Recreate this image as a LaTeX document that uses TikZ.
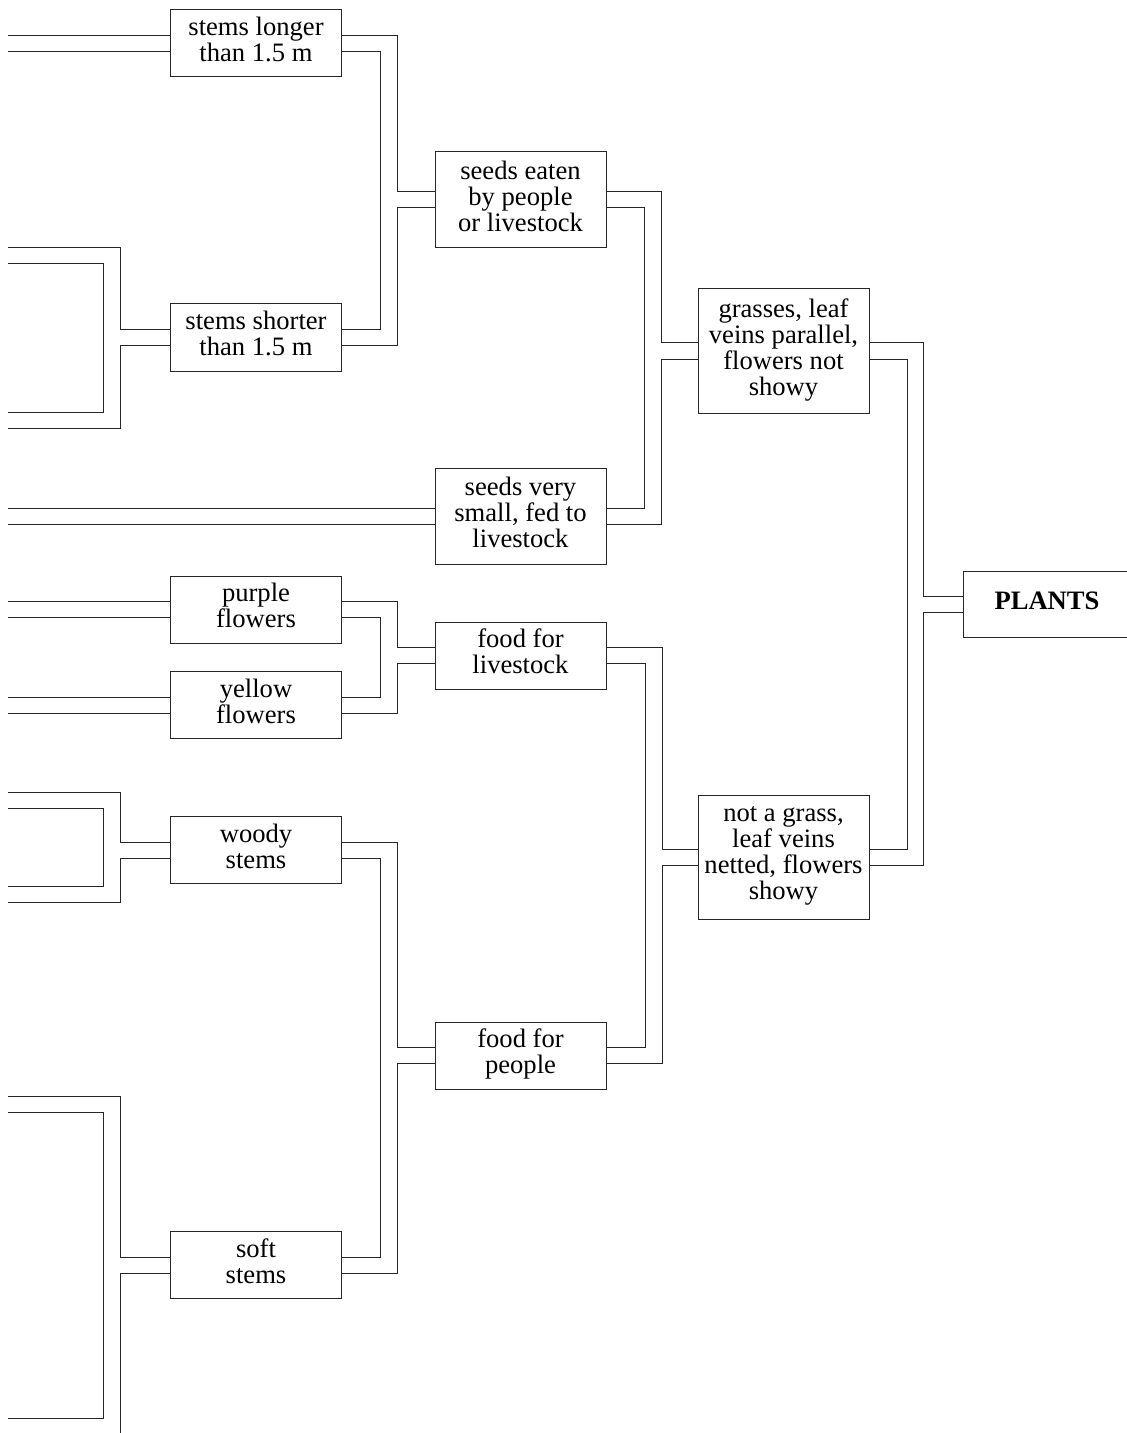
\documentclass[tikz,border=0pt]{standalone}
\usepackage{fontspec}
\setmainfont{Liberation Serif}
\tikzset{
  box/.style={draw, align=center, inner sep=2pt, minimum width=85.5pt,
    font=\fontsize{13.3}{13}\selectfont,
    execute at begin node=\strut, execute at end node=\strut},
  two/.style={box, minimum height=33.5pt},
  three/.style={box, minimum height=48pt},
  four/.style={box, minimum height=62pt}
}
% parent, upper child, lower child, x between children, x to parent
\newcommand{\pipe}[5]{
  \coordinate (pu) at ([yshift=4pt]#1);
  \coordinate (pd) at ([yshift=-4pt]#1);
  \coordinate (au) at ([yshift=4pt]#2);
  \coordinate (ad) at ([yshift=-4pt]#2);
  \coordinate (bu) at ([yshift=4pt]#3);
  \coordinate (bd) at ([yshift=-4pt]#3);
  \coordinate (xi) at (#4,0);
  \coordinate (xo) at (#5,0);
  \draw (au) -- (au -| xo) -- (pu -| xo) -- (pu);
  \draw (ad) -- (ad -| xi) -- (bu -| xi) -- (bu);
  \draw (bd) -- (bd -| xo) -- (pd -| xo) -- (pd);
}
\newcommand{\stub}[1]{
  \coordinate (su) at ([yshift=4pt]#1);
  \coordinate (sd) at ([yshift=-4pt]#1);
  \draw (su) -- (su -| lft);
  \draw (sd) -- (sd -| lft);
}

\begin{document}
\begin{tikzpicture}[x=0.5pt, y=-0.5pt, line width=0.5pt, draw=black!85]
    \useasboundingbox (0,0) rectangle (1126,1433);
    \coordinate (lft) at (8,0);

    \node[two] (sl) at (256,43.5) {stems longer\\than 1.5 m};
    \node[two] (ss) at (256,337.5) {stems shorter\\than 1.5 m};
    \node[two] (pf) at (256,609.5) {purple\\flowers};
    \node[two] (yf) at (256,705) {yellow\\flowers};
    \node[two] (wd) at (256,850) {woody\\stems};
    \node[two] (sf) at (256,1265) {soft\\stems};

    \node[three] (se) at (520.5,200) {seeds eaten\\by people\\or livestock};
    \node[three] (sv) at (520.5,516) {seeds very\\small, fed to\\livestock};
    \node[two] (fl) at (520.5,655.5) {food for\\livestock};
    \node[two] (fp) at (520.5,1055.5) {food for\\people};

    \node[four] (gr) at (783.5,351) {grasses, leaf\\veins parallel,\\flowers not\\showy};
    \node[four] (ng) at (783.5,857) {not a grass,\\leaf veins\\netted, flowers\\showy};

    \node[box, minimum width=84pt, minimum height=33pt,
      font=\fontsize{13.3}{13}\selectfont\bfseries] (pl) at (1047,604) {PLANTS};

    \coordinate (ssa) at (8,256);
    \coordinate (ssb) at (8,420);
    \coordinate (wda) at (8,800);
    \coordinate (wdb) at (8,894);
    \coordinate (sfa) at (8,1104);
    \coordinate (sfb) at (8,1426);

    \pipe{se.west}{sl.east}{ss.east}{380}{397}
    \pipe{gr.west}{se.east}{sv.east}{644}{661}
    \pipe{fl.west}{pf.east}{yf.east}{380}{397}
    \pipe{fp.west}{wd.east}{sf.east}{380}{397}
    \pipe{ng.west}{fl.east}{fp.east}{645}{662}
    \pipe{pl.west}{gr.east}{ng.east}{907}{923}

    \pipe{ss.west}{ssa}{ssb}{103}{120}
    \pipe{wd.west}{wda}{wdb}{103}{120}
    \pipe{sf.west}{sfa}{sfb}{103}{120}

    \stub{sl.west}
    \stub{sv.west}
    \stub{pf.west}
    \stub{yf.west}
\end{tikzpicture}
\end{document}
